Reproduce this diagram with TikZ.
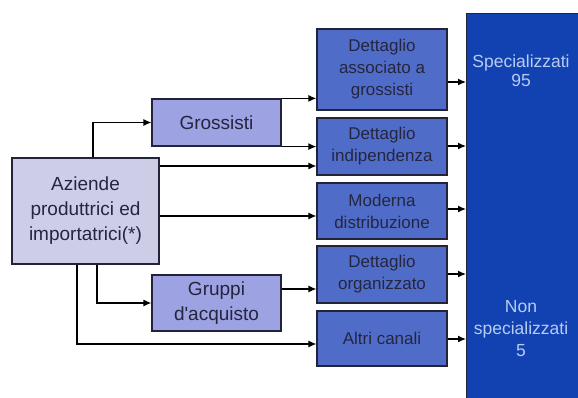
\documentclass[tikz,border=0pt]{standalone}
\usepackage{fontspec}
\setmainfont{Liberation Sans}
\usetikzlibrary{arrows.meta}
\definecolor{azfill}{HTML}{CDCDE8}
\definecolor{midfill}{HTML}{9CA2E2}
\definecolor{chfill}{HTML}{4F6DC8}
\definecolor{bigfill}{HTML}{1242B2}
\definecolor{txt}{HTML}{25253F}
\definecolor{bigtxt}{HTML}{B8CCF2}
\definecolor{edge}{HTML}{22223A}
\tikzset{
  boxbase/.style={draw=edge, line width=1.2pt, inner sep=2pt, align=center, text=txt},
  azbox/.style={boxbase, fill=azfill, minimum width=147pt, minimum height=106pt, font=\fontsize{19}{25}\selectfont},
  leftbox/.style={boxbase, fill=midfill, minimum width=129pt, font=\fontsize{19}{25}\selectfont},
  chbox/.style={boxbase, fill=chfill, minimum width=130pt, font=\fontsize{17}{22}\selectfont},
  arr/.style={draw=black, line width=1.3pt, -{Latex[length=8pt,width=7pt]}}
}
\begin{document}
\begin{tikzpicture}[x=1pt,y=-1pt]
\useasboundingbox (0,0) rectangle (578,398);
% big box
\node[draw=edge, line width=1.2pt, fill=bigfill, minimum width=114pt, minimum height=387pt, anchor=north west, inner sep=0pt] (big) at (466,13) {};
\node[text=bigtxt, align=center, font=\fontsize{17.5}{19}\selectfont] (spec) at (521,71) {Specializzati\\95};
\node[text=bigtxt, align=center, font=\fontsize{17.5}{22}\selectfont] (nonspec) at (521,329) {Non\\specializzati\\5};
% left boxes
\node[azbox] (az) at (85.5,211) {Aziende\\produttrici ed\\importatrici(*)};
\node[leftbox, minimum height=47pt] (gr) at (216.5,122.5) {Grossisti};
\node[leftbox, minimum height=56pt] (gp) at (216.5,303) {Gruppi\\d\textquotesingle acquisto};
% channel boxes
\node[chbox, minimum height=81pt] (b1) at (382,69.5) {Dettaglio\\associato a\\grossisti};
\node[chbox, minimum height=57pt] (b2) at (382,146.5) {Dettaglio\\indipendenza};
\node[chbox, minimum height=56pt] (b3) at (382,211) {Moderna\\distribuzione};
\node[chbox, minimum height=57pt] (b4) at (382,274.5) {Dettaglio\\organizzato};
\node[chbox, minimum height=55pt] (b5) at (382,338.5) {Altri canali};
% connectors from producers
\draw[arr] (93,0 |- az.north) |- (gr.west);
\draw[arr] (az.east |- 0,166) -- (b2.west |- 0,166);
\draw[arr] (az.east |- 0,216) -- (b3.west |- 0,216);
\draw[arr] (97,0 |- az.south) |- (gp.west);
\draw[arr] (77,0 |- az.south) |- (b5.west |- 0,344);
% from grossisti and gruppi
\draw[arr] (gr.north east) -- (gr.north east -| b1.west);
\draw[arr] (gr.south east) -- (gr.south east -| b2.west);
\draw[arr] (gp.east |- 0,289) -- (b4.west |- 0,289);
% channels to consumers
\draw[arr] (b1.east |- 0,82) -- (big.west |- 0,82);
\draw[arr] (b2.east |- 0,146) -- (big.west |- 0,146);
\draw[arr] (b3.east |- 0,209) -- (big.west |- 0,209);
\draw[arr] (b4.east |- 0,274) -- (big.west |- 0,274);
\draw[arr] (b5.east |- 0,339) -- (big.west |- 0,339);
\end{tikzpicture}
\end{document}
